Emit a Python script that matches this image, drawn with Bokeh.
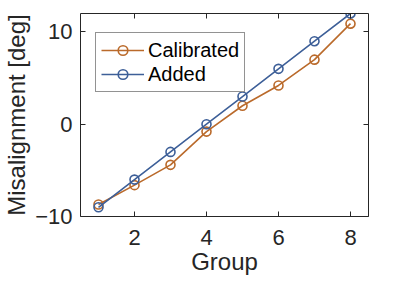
from bokeh.plotting import figure
from bokeh.models import LinearAxis, FixedTicker, Range1d, Legend, LegendItem, CustomJSTickFormatter
from bokeh.embed import file_html
from bokeh.resources import INLINE

groups = [1, 2, 3, 4, 5, 6, 7, 8]
calibrated = [-8.7, -6.6, -4.4, -0.8, 2.0, 4.2, 7.0, 10.9]
added = [-9.0, -6.0, -3.0, 0.0, 3.0, 6.0, 9.0, 12.0]
x_ticks = [2, 4, 6, 8]
y_ticks = [-10, 0, 10]

FONT = "Liberation Sans"
DARK = "#262626"
C_CAL = "#BA6A2B"
C_ADD = "#3D5F98"

p = figure(width=399, height=277, output_backend="svg", toolbar_location=None,
           x_range=Range1d(0.5, 8.5), y_range=Range1d(-10, 12),
           min_border_left=0, min_border_right=31, min_border_top=13, min_border_bottom=0,
           x_axis_label="Group", y_axis_label="Misalignment [deg]")
p.outline_line_color = None
p.grid.visible = False
p.background_fill_color = "white"
p.border_fill_color = "white"

for ax, ticks in ((p.xaxis[0], x_ticks), (p.yaxis[0], y_ticks)):
    ax.ticker = FixedTicker(ticks=ticks)
    ax.major_tick_in = 5
    ax.major_tick_out = 0
    ax.minor_tick_line_color = None
    ax.axis_line_color = DARK
    ax.major_tick_line_color = DARK
    ax.major_label_text_font = FONT
    ax.major_label_text_font_size = "22px"
    ax.major_label_text_color = DARK
    ax.axis_label_text_font = FONT
    ax.axis_label_text_font_size = "24px"
    ax.axis_label_text_font_style = "normal"
    ax.axis_label_text_color = DARK

p.xaxis[0].major_label_standoff = 13
p.xaxis[0].axis_label_standoff = 0
p.xaxis[0].axis_label_text_line_height = 0.8
p.xaxis[0].axis_label_text_baseline = "middle"
p.xaxis[0].major_label_text_line_height = 1.0
p.yaxis[0].major_label_standoff = 8
p.yaxis[0].axis_label_standoff = 2

blank = CustomJSTickFormatter(code="return ''")
top = LinearAxis(ticker=FixedTicker(ticks=x_ticks), formatter=blank)
right = LinearAxis(ticker=FixedTicker(ticks=y_ticks), formatter=blank)
for ax in (top, right):
    ax.major_tick_in = 5
    ax.major_tick_out = 0
    ax.minor_tick_line_color = None
    ax.axis_line_color = DARK
    ax.major_tick_line_color = DARK
    ax.major_label_standoff = 0
p.add_layout(top, "above")
p.add_layout(right, "right")

l1 = p.line(groups, calibrated, line_color=C_CAL, line_width=1.6)
s1 = p.scatter(groups, calibrated, marker="circle", size=9, fill_color=None,
               line_color=C_CAL, line_width=1.6)
l2 = p.line(groups, added, line_color=C_ADD, line_width=1.6)
s2 = p.scatter(groups, added, marker="circle", size=9, fill_color=None,
               line_color=C_ADD, line_width=1.6)

legend = Legend(items=[LegendItem(label="Calibrated", renderers=[l1, s1]),
                       LegendItem(label="Added", renderers=[l2, s2])],
                location=(15, 124))
legend.label_text_font = FONT
legend.label_text_font_size = "20px"
legend.label_text_color = "black"
legend.border_line_color = DARK
legend.border_line_width = 1
legend.background_fill_alpha = 1
legend.padding = 5
legend.spacing = 0
legend.margin = 0
legend.glyph_width = 43
legend.glyph_height = 24
legend.label_height = 24
legend.label_standoff = 4
p.add_layout(legend, "center")

open("out.html", "w").write(file_html(p, INLINE))
